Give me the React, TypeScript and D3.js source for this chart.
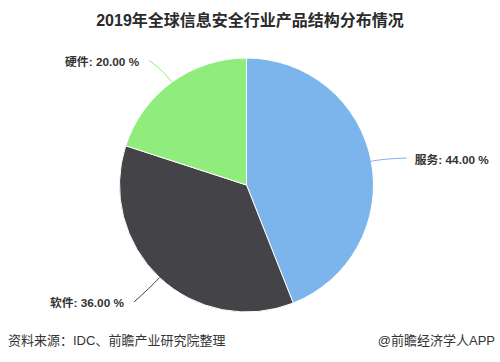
import React from "react";
import * as d3 from "d3";

const title = "2019年全球信息安全行业产品结构分布情况";
const categories = ["服务", "软件", "硬件"];
const values = [44, 36, 20];
const colors = ["#7cb5ec", "#434348", "#90ed7d"];
const sourceText = "资料来源：IDC、前瞻产业研究院整理";
const brandText = "@前瞻经济学人APP";

export default function App() {
  const W = 500, H = 362;
  const cx = 246.5, cy = 185, r = 127;
  const pie = d3.pie<number>().sort(null).value((d) => d)(values);
  const arc = d3.arc<d3.PieArcDatum<number>>().innerRadius(0).outerRadius(r);
  const total = d3.sum(values);
  const font = "'Liberation Sans', 'Noto Sans CJK SC', Arial, sans-serif";

  return (
    <svg width={W} height={H} style={{ position: "absolute", left: 0, top: 0, background: "#fff" }}>
      <text x={250} y={26} textAnchor="middle" fontFamily={font} fontSize={16} fontWeight="bold" fill="#2b2b2b">{title}</text>
      <g transform={`translate(${cx},${cy})`}>
        {pie.map((p, i) => (
          <path key={i} d={arc(p) || ""} fill={colors[i]} stroke="#fff" strokeWidth={1} />
        ))}
      </g>
      {pie.map((p, i) => {
        const a = (p.startAngle + p.endAngle) / 2;
        const sin = Math.sin(a), cos = Math.cos(a);
        const ex = cx + r * sin, ey = cy - r * cos;
        const ly = cy - (r + 30) * cos;
        const right = sin >= 0;
        const dx = Math.sqrt(Math.max(0, (r + 30) ** 2 - (ly - cy) ** 2));
        const tx = right ? cx + dx + 14 : cx - dx - 15;
        const anchorX = right ? tx - 8 : tx + 10;
        const anchorY = ly + 2.5;
        const mx = cx + (r + 14) * sin, my = cy - (r + 14) * cos;
        const pct = ((values[i] / total) * 100).toFixed(2);
        return (
          <g key={"l" + i}>
            <path d={`M${anchorX},${anchorY} Q${mx},${my} ${ex},${ey}`} fill="none" stroke={colors[i]} strokeWidth={1} />
            <text x={tx} y={ly + 8} textAnchor={right ? "start" : "end"} fontFamily={font} fontSize={11.8} fontWeight="bold" fill="#333">
              {categories[i]}: {pct} %
            </text>
          </g>
        );
      })}
      <text x={8} y={345} fontFamily={font} fontSize={13} fill="#333">{sourceText}</text>
      <text x={495} y={345} textAnchor="end" fontFamily={font} fontSize={13} fill="#333">{brandText}</text>
    </svg>
  );
}
